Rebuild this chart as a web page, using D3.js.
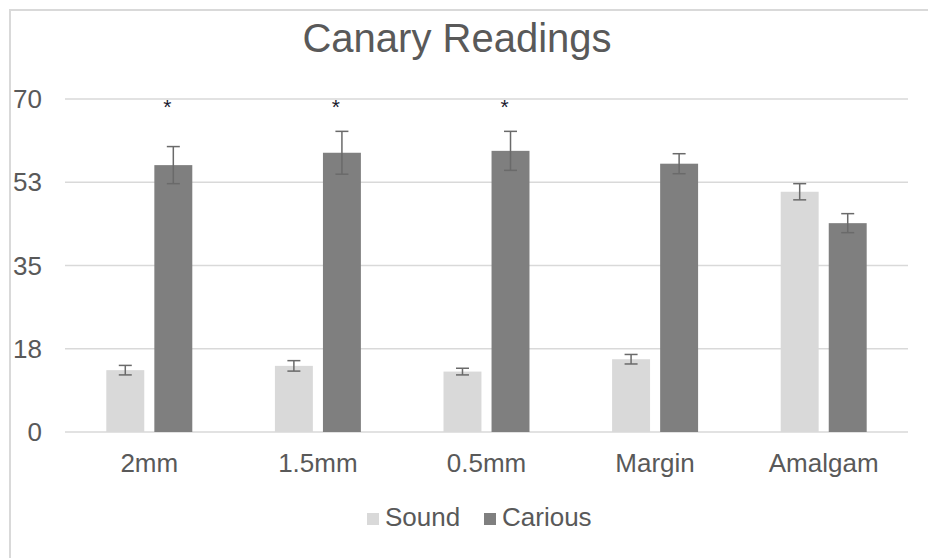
<!DOCTYPE html>
<html>
<head>
<meta charset="utf-8">
<script src="https://cdn.jsdelivr.net/npm/d3@7"></script>
<style>
  body { margin: 0; background: #fff; }
  svg text { font-family: "Liberation Sans", Arial, sans-serif; fill: #595959; }
</style>
</head>
<body>
<div id="chart"></div>
<script>
  'use strict';

  // data
  var categories = ['2mm', '1.5mm', '0.5mm', 'Margin', 'Amalgam'];
  var series = ['Sound', 'Carious'];
  var soundValues = [13.0, 13.9, 12.7, 15.3, 50.5];
  var soundErrors = [1.0, 1.1, 0.7, 1.0, 1.7];
  var cariousValues = [56.1, 58.7, 59.1, 56.4, 43.9];
  var cariousErrors = [3.9, 4.5, 4.1, 2.1, 2.0];
  var significant = ['2mm', '1.5mm', '0.5mm'];
  var yTicks = [0, 17.5, 35, 52.5, 70];
  var yTickLabels = ['0', '18', '35', '53', '70'];

  var colors = { Sound: '#d9d9d9', Carious: '#7f7f7f' };

  var width = 928, height = 558;

  var svg = d3.select('#chart').append('svg')
    .attr('width', width)
    .attr('height', height);

  // chart frame (only top and left edges are in the crop)
  svg.append('rect')
    .attr('x', 10).attr('y', 10)
    .attr('width', width + 20).attr('height', height + 20)
    .attr('fill', '#fff')
    .attr('stroke', '#d9d9d9')
    .attr('stroke-width', 2);

  var x0 = d3.scaleBand()
    .domain(categories)
    .range([65, 908])
    .paddingInner(0.49)
    .paddingOuter(0.245);

  var x1 = d3.scaleBand()
    .domain(series)
    .range([0, x0.bandwidth()])
    .paddingInner(0.21);

  var y = d3.scaleLinear()
    .domain([0, 70])
    .range([432, 99]);

  // gridlines
  svg.append('g')
    .selectAll('line')
    .data(yTicks)
    .join('line')
    .attr('x1', 65).attr('x2', 908)
    .attr('y1', d => y(d)).attr('y2', d => y(d))
    .attr('stroke', '#d9d9d9')
    .attr('stroke-width', 1.5);

  // y labels
  svg.append('g')
    .selectAll('text')
    .data(yTicks)
    .join('text')
    .attr('x', 42)
    .attr('y', d => y(d) + 9)
    .attr('text-anchor', 'end')
    .attr('font-size', 26)
    .text((d, i) => yTickLabels[i]);

  // x labels
  svg.append('g')
    .selectAll('text')
    .data(categories)
    .join('text')
    .attr('x', d => x0(d) + x0.bandwidth() / 2)
    .attr('y', 472)
    .attr('text-anchor', 'middle')
    .attr('font-size', 26)
    .text(d => d);

  var rows = categories.map((c, i) => ({
    cat: c,
    values: [
      { key: 'Sound', value: soundValues[i], err: soundErrors[i] },
      { key: 'Carious', value: cariousValues[i], err: cariousErrors[i] }
    ]
  }));

  var groups = svg.append('g')
    .selectAll('g')
    .data(rows)
    .join('g')
    .attr('transform', d => 'translate(' + x0(d.cat) + ',0)');

  groups.selectAll('rect')
    .data(d => d.values)
    .join('rect')
    .attr('x', d => x1(d.key))
    .attr('y', d => y(d.value))
    .attr('width', x1.bandwidth())
    .attr('height', d => y(0) - y(d.value))
    .attr('fill', d => colors[d.key]);

  // error bars
  var capHalf = 6.5;
  var err = groups.selectAll('g.err')
    .data(d => d.values)
    .join('g')
    .attr('class', 'err')
    .attr('stroke', '#6a6a6a')
    .attr('stroke-width', 1.5);

  err.append('line')
    .attr('x1', d => x1(d.key) + x1.bandwidth() / 2)
    .attr('x2', d => x1(d.key) + x1.bandwidth() / 2)
    .attr('y1', d => y(d.value + d.err))
    .attr('y2', d => y(d.value - d.err));
  err.append('line')
    .attr('x1', d => x1(d.key) + x1.bandwidth() / 2 - capHalf)
    .attr('x2', d => x1(d.key) + x1.bandwidth() / 2 + capHalf)
    .attr('y1', d => y(d.value + d.err))
    .attr('y2', d => y(d.value + d.err));
  err.append('line')
    .attr('x1', d => x1(d.key) + x1.bandwidth() / 2 - capHalf)
    .attr('x2', d => x1(d.key) + x1.bandwidth() / 2 + capHalf)
    .attr('y1', d => y(d.value - d.err))
    .attr('y2', d => y(d.value - d.err));

  // significance markers
  svg.append('g')
    .selectAll('text')
    .data(significant)
    .join('text')
    .attr('x', d => x0(d) + x1('Carious') + x1.bandwidth() / 2 - 6)
    .attr('y', 114)
    .attr('text-anchor', 'middle')
    .attr('font-size', 21)
    .style('fill', '#1a1a2e')
    .text('*');

  // title
  svg.append('text')
    .attr('x', 457)
    .attr('y', 52)
    .attr('text-anchor', 'middle')
    .attr('font-size', 40)
    .text('Canary Readings');

  // legend
  var legendX = [367, 484];
  var legend = svg.append('g')
    .selectAll('g')
    .data(series)
    .join('g')
    .attr('transform', (d, i) => 'translate(' + legendX[i] + ',0)');
  legend.append('rect')
    .attr('x', 0).attr('y', 513)
    .attr('width', 12).attr('height', 12)
    .attr('fill', d => colors[d]);
  legend.append('text')
    .attr('x', 18)
    .attr('y', 526)
    .attr('font-size', 26)
    .text(d => d);
</script>
</body>
</html>
